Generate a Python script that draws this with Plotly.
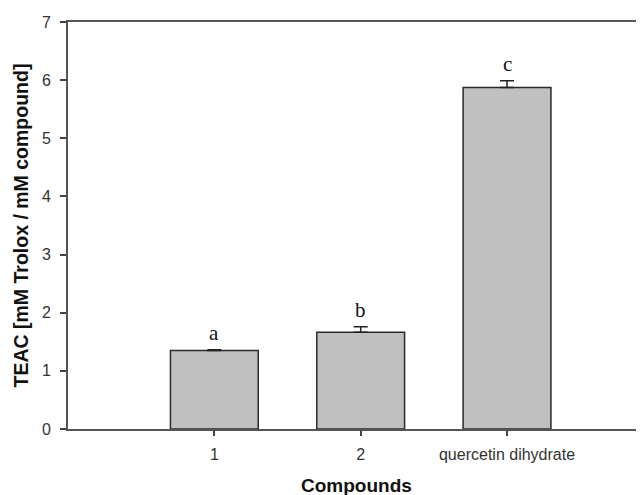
import plotly.graph_objects as go

categories = ["1", "2", "quercetin dihydrate"]
teac_values = [1.35, 1.665, 5.875]
teac_errors = [0.015, 0.095, 0.115]
sig_letters = ["a", "b", "c"]
y_ticks = [0, 1, 2, 3, 4, 5, 6, 7]

fig = go.Figure()
fig.add_trace(go.Bar(
    x=categories,
    y=teac_values,
    width=0.6,
    marker=dict(color="#c0c0c0", line=dict(color="#2a2a2a", width=1.5)),
    error_y=dict(type="data", symmetric=False, array=teac_errors,
                 arrayminus=[0] * len(teac_errors),
                 color="#222222", thickness=1.5, width=7),
    showlegend=False,
))

for i, (v, e, lab) in enumerate(zip(teac_values, teac_errors, sig_letters)):
    fig.add_annotation(x=i, y=v + e, text=lab, showarrow=False,
                       yanchor="bottom", yshift=3,
                       font=dict(family="Liberation Serif", size=21, color="#111111"))

fig.add_annotation(xref="paper", yref="paper", x=0.5, y=-0.138,
                   text="<b>Compounds</b>", showarrow=False,
                   xanchor="center", yanchor="middle",
                   font=dict(family="Liberation Sans", size=19, color="#111111"))
fig.add_annotation(xref="paper", yref="paper", x=-0.0816, y=0.5,
                   text="<b>TEAC [mM Trolox / mM compound]</b>", showarrow=False,
                   textangle=-90, xanchor="center", yanchor="middle",
                   font=dict(family="Liberation Sans", size=19.5, color="#111111"))

# page body has an 8px default margin; compensate in figure size/margins
fig.update_layout(
    width=636, height=487,
    margin=dict(l=60, r=0, t=14, b=66),
    paper_bgcolor="white", plot_bgcolor="white",
    font=dict(family="Liberation Sans", size=16, color="#333333"),
)
fig.update_xaxes(
    type="category", range=[-1, 2.936],
    showline=True, linecolor="#555555", linewidth=2, mirror=True,
    ticks="outside", ticklen=5, tickwidth=1.5, tickcolor="#444444",
    showgrid=False, zeroline=False, ticklabelstandoff=5,
)
fig.update_yaxes(
    range=[0, 7], tickvals=y_ticks,
    showline=True, linecolor="#555555", linewidth=2, mirror=False,
    ticks="outside", ticklen=6, tickwidth=1.5, tickcolor="#444444",
    showgrid=False, zeroline=False, ticklabelstandoff=6,
)

fig.write_html("out.html")
